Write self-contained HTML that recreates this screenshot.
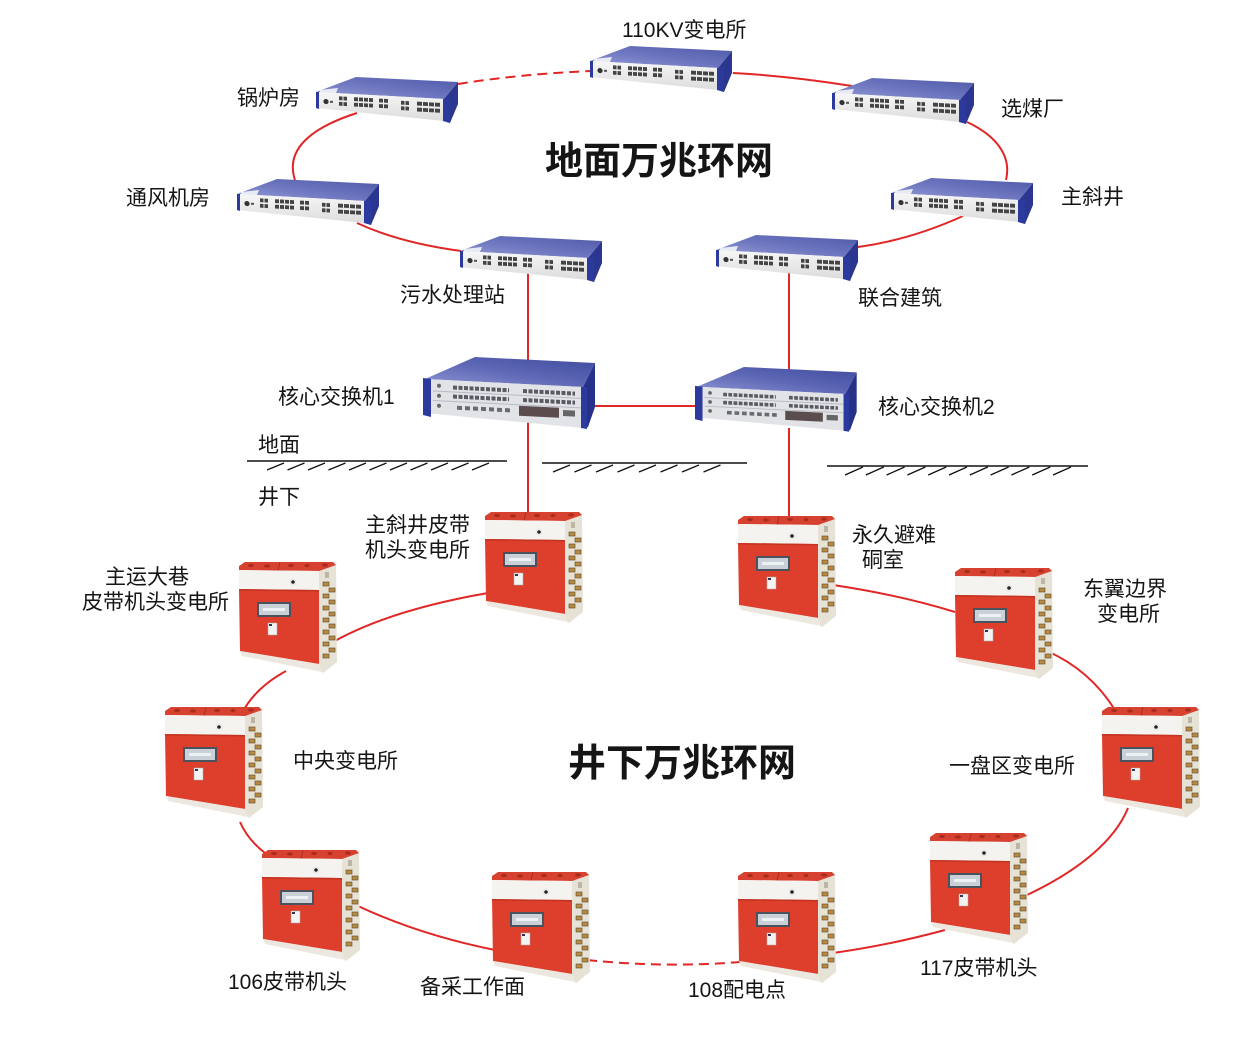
<!DOCTYPE html>
<html><head><meta charset="utf-8"><style>
html,body{margin:0;padding:0;background:#fff;}
svg{display:block;}
text{font-family:"Liberation Sans","Noto Sans CJK SC",sans-serif;fill:#151515;}
.lb{font-size:21px;}
.tt{font-size:38px;font-weight:bold;}
</style></head><body>
<svg width="1257" height="1047" viewBox="0 0 1257 1047" xmlns="http://www.w3.org/2000/svg">
<defs>
 <linearGradient id="swTop" x1="0" y1="1" x2="1" y2="0">
  <stop offset="0" stop-color="#9aa1da"/><stop offset="0.45" stop-color="#6f78c0"/><stop offset="1" stop-color="#4d58a8"/>
 </linearGradient>
 <linearGradient id="swFront" x1="0" y1="0" x2="0" y2="1">
  <stop offset="0" stop-color="#f7f7f7"/><stop offset="1" stop-color="#dcdcdc"/>
 </linearGradient>
 <linearGradient id="coreTop" x1="0" y1="1" x2="1" y2="0">
  <stop offset="0" stop-color="#8f97d4"/><stop offset="0.5" stop-color="#5d67b5"/><stop offset="1" stop-color="#3e4a9e"/>
 </linearGradient>
 <g id="sw">
  <polygon points="40,0 142,5 128,22 0,15" fill="url(#swTop)"/>
  <polygon points="4,13 22,11 20,16 4,16" fill="#e8eaf4"/>
  <polygon points="142,5 142,27 134,46 128,44 128,22" fill="#2b3690"/>
  <polygon points="0,15 128,22 128,44 0,31" fill="url(#swFront)"/>
  <polygon points="0,15 3,15 3,32 0,31" fill="#2b3a9c"/>
  <polygon points="127,22 134,22 134,46 127,44" fill="#2b3a9c"/>
  <g transform="matrix(1,0.055,0,1,0,0)">
   <circle cx="10" cy="24" r="2.6" fill="#333"/>
   <rect x="14" y="23" width="3" height="2" fill="#555"/>
   <g stroke="#444" stroke-width="3.8">
    <line x1="23" y1="20" x2="31" y2="20" stroke-dasharray="3.5 1"/>
    <line x1="23" y1="25.5" x2="31" y2="25.5" stroke-dasharray="3.5 1"/>
    <line x1="38" y1="20" x2="57" y2="20" stroke-dasharray="4 1"/>
    <line x1="38" y1="25.5" x2="57" y2="25.5" stroke-dasharray="4 1"/>
    <line x1="63" y1="20" x2="72" y2="20" stroke-dasharray="4 1"/>
    <line x1="63" y1="25.5" x2="72" y2="25.5" stroke-dasharray="4 1"/>
    <line x1="85" y1="21" x2="93" y2="21" stroke-dasharray="3.5 1"/>
    <line x1="85" y1="26.5" x2="93" y2="26.5" stroke-dasharray="3.5 1"/>
    <line x1="101" y1="21" x2="125" y2="21" stroke-dasharray="5 1"/>
    <line x1="101" y1="27" x2="125" y2="27" stroke-dasharray="5 1"/>
   </g>
  </g>
 </g>
 <g id="core">
  <polygon points="52,0 172,6 160,30 2,22" fill="url(#coreTop)"/>
  <polygon points="172,6 172,50 165,70 160,71 160,30" fill="#26318a"/>
  <polygon points="2,22 160,30 160,71 2,56" fill="#e2e3e7"/>
  <polygon points="0,21 8,22 8,60 0,58" fill="#2c3a9e"/>
  <polygon points="158,30 164,30 164,72 158,71" fill="#2c3a9e"/>
  <g transform="matrix(1,0.05,0,1,0,0)">
   <line x1="10" y1="33.5" x2="158" y2="33.5" stroke="#b8bac4" stroke-width="1"/>
   <line x1="10" y1="43" x2="158" y2="43" stroke="#b8bac4" stroke-width="1"/>
   <circle cx="16" cy="28" r="2" fill="#666"/>
   <circle cx="16" cy="38" r="2" fill="#666"/>
   <circle cx="16" cy="48" r="2" fill="#666"/>
   <g stroke="#5a5a62" stroke-width="4">
    <line x1="30" y1="29" x2="86" y2="29" stroke-dasharray="4 1.5"/>
    <line x1="100" y1="29" x2="152" y2="29" stroke-dasharray="4 1.5"/>
    <line x1="30" y1="38" x2="86" y2="38" stroke-dasharray="4 1.5"/>
    <line x1="100" y1="38" x2="152" y2="38" stroke-dasharray="4 1.5"/>
    <line x1="34" y1="49" x2="88" y2="49" stroke-dasharray="5 3" stroke="#6a6a72"/>
   </g>
   <rect x="96" y="44" width="40" height="10" fill="#5b4c4e"/>
   <rect x="140" y="46" width="12" height="6" fill="#666"/>
  </g>
 </g>
 <g id="cab">
  <polygon points="80,8 97,2 98,100 84,111 80,108" fill="#e7e2d6"/>
  <g fill="#b48a45" stroke="#5e4620" stroke-width="0.6">
   <rect x="84" y="20" width="6" height="4"/><rect x="90" y="26" width="6" height="4"/>
   <rect x="84" y="32" width="6" height="4"/><rect x="90" y="38" width="6" height="4"/>
   <rect x="84" y="44" width="6" height="4"/><rect x="90" y="50" width="6" height="4"/>
   <rect x="84" y="56" width="6" height="4"/><rect x="90" y="62" width="6" height="4"/>
   <rect x="84" y="68" width="6" height="4"/><rect x="90" y="74" width="6" height="4"/>
   <rect x="84" y="80" width="6" height="4"/><rect x="90" y="86" width="6" height="4"/>
   <rect x="84" y="92" width="6" height="4"/>
  </g>
  <rect x="86" y="10" width="4" height="6" fill="#bdb6a8"/>
  <polygon points="0,4 6,0 94,0 97,3 80,9 0,8" fill="#d7412f"/>
  <line x1="41" y1="0.5" x2="39" y2="8.5" stroke="#9e2a1e" stroke-width="0.8"/>
  <g fill="#a92c1f">
   <ellipse cx="12" cy="3.5" rx="3" ry="1.6"/><ellipse cx="28" cy="4" rx="3" ry="1.6"/>
   <ellipse cx="52" cy="3.5" rx="3" ry="1.6"/><ellipse cx="68" cy="3.5" rx="2.5" ry="1.6"/>
   <ellipse cx="86" cy="3" rx="3" ry="1.6"/>
  </g>
  <polygon points="0,8 80,9 80,28 0,27" fill="#f5f3ef"/>
  <circle cx="54" cy="20" r="3" fill="#fff" stroke="#ccc" stroke-width="0.5"/>
  <circle cx="54" cy="20" r="1.8" fill="#222"/>
  <polygon points="0,27 80,28 80,102 1,89" fill="#dd3f2c"/>
  <polygon points="0,27 80,28 80,29.5 0,28.5" fill="#c23322"/>
  <polygon points="1,89 80,102 83,110 3,94" fill="#ece8e0"/>
  <rect x="18" y="40" width="34" height="15" fill="#4a525e"/>
  <rect x="20" y="42" width="30" height="11" fill="#c9d0d7"/>
  <rect x="24" y="46" width="22" height="3" fill="#eef1f4"/>
  <rect x="29" y="61" width="9" height="12" fill="#f3f3f3" stroke="#aaa" stroke-width="0.5"/>
  <rect x="30" y="62" width="3" height="2" fill="#335"/>
 </g>
</defs>

<rect width="1257" height="1047" fill="#fff"/>

<!-- Connection lines -->
<g fill="none" stroke="#e12626" stroke-width="2">
 <path d="M458,84 Q520,74 592,71" stroke-dasharray="10 6"/>
 <path d="M733,73 Q790,76 852,86"/>
 <path d="M357,113 C310,128 285,150 295,180"/>
 <path d="M357,223 Q400,243 461,251"/>
 <path d="M967,122 C995,135 1012,155 1006,180"/>
 <path d="M963,216 Q910,240 858,247"/>
 <path d="M528,270 L528,362"/>
 <path d="M789,268 L789,370"/>
 <path d="M592,406 L698,406"/>
 <path d="M528,420 L528,516"/>
 <path d="M789,428 L789,522"/>
 <path d="M488,593 Q390,610 333,642"/>
 <path d="M286,671 Q255,688 242,713"/>
 <path d="M240,822 Q248,840 265,853"/>
 <path d="M358,906 Q420,935 495,950"/>
 <path d="M587,960 Q665,968 740,962" stroke-dasharray="10 6"/>
 <path d="M833,953 Q890,945 945,930"/>
 <path d="M1027,895 C1080,870 1115,840 1128,808"/>
 <path d="M1115,710 Q1090,670 1047,651"/>
 <path d="M955,612 Q900,595 833,585"/>
</g>

<!-- Ground lines -->
<g stroke="#111" fill="none">
 <line x1="247" y1="461" x2="507" y2="461" stroke-width="1.6"/>
 <line x1="542" y1="463" x2="747" y2="463" stroke-width="1.6"/>
 <line x1="827" y1="466" x2="1088" y2="466" stroke-width="1.6"/>
 <path stroke-width="1.3" d="M267 470l17-7M287.5 470l17-7M308 470l17-7M328.5 470l17-7M349 470l17-7M369.5 470l17-7M390 470l17-7M410.5 470l17-7M431 470l17-7M451.5 470l17-7M472 470l17-7"/>
 <path stroke-width="1.3" d="M553 472l17-7M574.5 472l17-7M596 472l17-7M617.5 472l17-7M639 472l17-7M660.5 472l17-7M682 472l17-7M703.5 472l17-7"/>
 <path stroke-width="1.3" d="M845 475l18-8M865.8 475l18-8M886.6 475l18-8M907.4 475l18-8M928.2 475l18-8M949 475l18-8M969.8 475l18-8M990.6 475l18-8M1011.4 475l18-8M1032.2 475l18-8M1053 475l18-8"/>
</g>

<!-- Switches -->
<use href="#sw" x="590" y="46"/>
<use href="#sw" x="316" y="77"/>
<use href="#sw" x="832" y="78"/>
<use href="#sw" x="891" y="178"/>
<use href="#sw" x="716" y="235"/>
<use href="#sw" x="237" y="179"/>
<use href="#sw" x="460" y="236"/>

<!-- Core switches -->
<use href="#core" transform="translate(423,357)"/>
<use href="#core" transform="translate(695,367) scale(0.94,0.9)"/>

<!-- Cabinets -->
<use href="#cab" x="485" y="512"/>
<use href="#cab" x="738" y="516"/>
<use href="#cab" x="239" y="562"/>
<use href="#cab" x="165" y="707"/>
<use href="#cab" x="262" y="850"/>
<use href="#cab" x="492" y="872"/>
<use href="#cab" x="738" y="872"/>
<use href="#cab" x="930" y="833"/>
<use href="#cab" x="1102" y="707"/>
<use href="#cab" x="955" y="568"/>

<!-- Titles -->
<text class="tt" x="545" y="174">地面万兆环网</text>
<text class="tt" x="568" y="776">井下万兆环网</text>

<!-- Labels -->
<text class="lb" x="622" y="37">110KV变电所</text>
<text class="lb" x="237" y="105">锅炉房</text>
<text class="lb" x="1001" y="116">选煤厂</text>
<text class="lb" x="126" y="205">通风机房</text>
<text class="lb" x="1061" y="204">主斜井</text>
<text class="lb" x="400" y="302">污水处理站</text>
<text class="lb" x="858" y="305">联合建筑</text>
<text class="lb" x="278" y="404">核心交换机1</text>
<text class="lb" x="878" y="414">核心交换机2</text>
<text class="lb" x="258" y="452">地面</text>
<text class="lb" x="258" y="504">井下</text>
<text class="lb" x="365" y="532">主斜井皮带</text>
<text class="lb" x="365" y="557">机头变电所</text>
<text class="lb" x="105" y="584">主运大巷</text>
<text class="lb" x="82" y="609">皮带机头变电所</text>
<text class="lb" x="293" y="768">中央变电所</text>
<text class="lb" x="228" y="989">106皮带机头</text>
<text class="lb" x="420" y="994">备采工作面</text>
<text class="lb" x="688" y="997">108配电点</text>
<text class="lb" x="920" y="975">117皮带机头</text>
<text class="lb" x="949" y="773">一盘区变电所</text>
<text class="lb" x="1083" y="596">东翼边界</text>
<text class="lb" x="1097" y="621">变电所</text>
<text class="lb" x="852" y="542">永久避难</text>
<text class="lb" x="862" y="567">硐室</text>
</svg>
</body></html>
